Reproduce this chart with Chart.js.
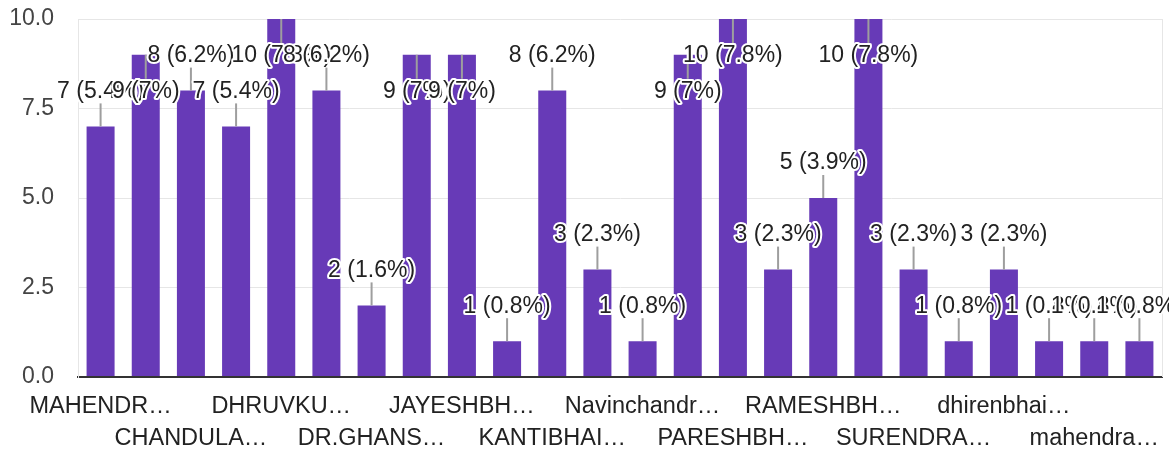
<!DOCTYPE html>
<html>
<head>
<meta charset="utf-8">
<script src="https://cdn.jsdelivr.net/npm/chart.js@4.4.0/dist/chart.umd.min.js"></script>
<style>
    html, body { margin: 0; padding: 0; background: #fff; }
    #wrap { width: 1169px; height: 450px; }
</style>
</head>
<body>
<div id="wrap"><canvas id="chart" width="1169" height="450"></canvas></div>
<script>
// Categorias (solo se leen las etiquetas visibles del eje, las demas quedan vacias)
const categories = [
    'MAHENDR…', '', 'CHANDULA…', '', 'DHRUVKU…', '', 'DR.GHANS…', '',
    'JAYESHBH…', '', 'KANTIBHAI…', '', 'Navinchandr…', '', 'PARESHBH…', '',
    'RAMESHBH…', '', 'SURENDRA…', '', 'dhirenbhai…', '', 'mahendra…', ''
];
// Respuestas por categoria
const counts = [7, 9, 8, 7, 10, 8, 2, 9, 9, 1, 8, 3, 1, 9, 10, 3, 5, 10, 3, 1, 3, 1, 1, 1];
// Marcas del eje Y
const yTicks = [0, 2.5, 5, 7.5, 10];

const FONT = '"Liberation Sans", Arial, sans-serif';
const total = counts.reduce((a, b) => a + b, 0);

function pct(v) {
    return parseFloat((v / total * 100).toFixed(1));
}

// Etiquetas con linea guia sobre cada barra
const barLabels = {
    id: 'barLabels',
    beforeDatasetsDraw(chart) {
        const { ctx, chartArea } = chart;
        ctx.save();
        ctx.strokeStyle = '#e6e6e6';
        ctx.lineWidth = 1;
        ctx.beginPath();
        ctx.moveTo(chartArea.right + 0.5, chartArea.top);
        ctx.lineTo(chartArea.right + 0.5, chartArea.bottom);
        ctx.stroke();
        ctx.restore();
    },
    afterDatasetsDraw(chart) {
        const { ctx, chartArea } = chart;
        const meta = chart.getDatasetMeta(0);
        ctx.save();
        ctx.font = '23px ' + FONT;
        ctx.textAlign = 'center';
        ctx.textBaseline = 'middle';
        ctx.lineJoin = 'round';
        meta.data.forEach((bar, i) => {
            const v = counts[i];
            const text = `${v} (${pct(v)}%)`;
            const above = bar.y - 47 >= chartArea.top;
            const lineEnd = above ? bar.y - 23 : bar.y + 24;
            const textY = above ? bar.y - 35 : bar.y + 37;

            ctx.strokeStyle = '#9e9e9e';
            ctx.lineWidth = 2;
            ctx.beginPath();
            ctx.moveTo(bar.x, bar.y);
            ctx.lineTo(bar.x, lineEnd);
            ctx.stroke();

            ctx.strokeStyle = '#fff';
            ctx.lineWidth = 4;
            ctx.strokeText(text, bar.x, textY);
            ctx.fillStyle = '#222';
            ctx.fillText(text, bar.x, textY);
        });
        ctx.restore();
    }
};

const chart = new Chart(document.getElementById('chart').getContext('2d'), {
    type: 'bar',
    data: {
        labels: categories,
        datasets: [{
            data: counts,
            backgroundColor: '#673ab7',
            categoryPercentage: 1,
            barPercentage: 0.62
        }]
    },
    options: {
        responsive: false,
        animation: false,
        layout: {
            padding: { top: 19, right: 7, left: 0, bottom: 0 }
        },
        plugins: {
            legend: { display: false },
            tooltip: { enabled: false }
        },
        scales: {
            x: {
                grid: { display: false },
                border: { display: true, color: '#333', width: 2 },
                ticks: {
                    autoSkip: false,
                    maxRotation: 0,
                    minRotation: 0,
                    padding: 6,
                    color: '#222',
                    font: { family: FONT, size: 23.5, lineHeight: 32 / 23.5 },
                    callback: (val, i) => {
                        const name = categories[i];
                        if (!name) return '';
                        return (i / 2) % 2 === 0 ? name : ['', name];
                    }
                },
                afterFit: (scale) => { scale.height = 73; }
            },
            y: {
                min: 0,
                max: 10,
                afterBuildTicks: (scale) => {
                    scale.ticks = yTicks.map(v => ({ value: v }));
                },
                grid: {
                    drawTicks: false,
                    color: (c) => c.tick && c.tick.value === 0 ? '#333' : '#e6e6e6',
                    lineWidth: (c) => c.tick && c.tick.value === 0 ? 2 : 1
                },
                border: { display: true, color: '#e6e6e6', width: 1 },
                ticks: {
                    padding: 24,
                    color: '#444',
                    font: { family: FONT, size: 23 },
                    callback: (v) => Number(v).toFixed(1)
                },
                afterFit: (scale) => {
                    scale.width = 78;
                    scale.paddingTop = 0;
                    scale.paddingBottom = 0;
                }
            }
        }
    },
    plugins: [barLabels]
});
</script>
</body>
</html>
